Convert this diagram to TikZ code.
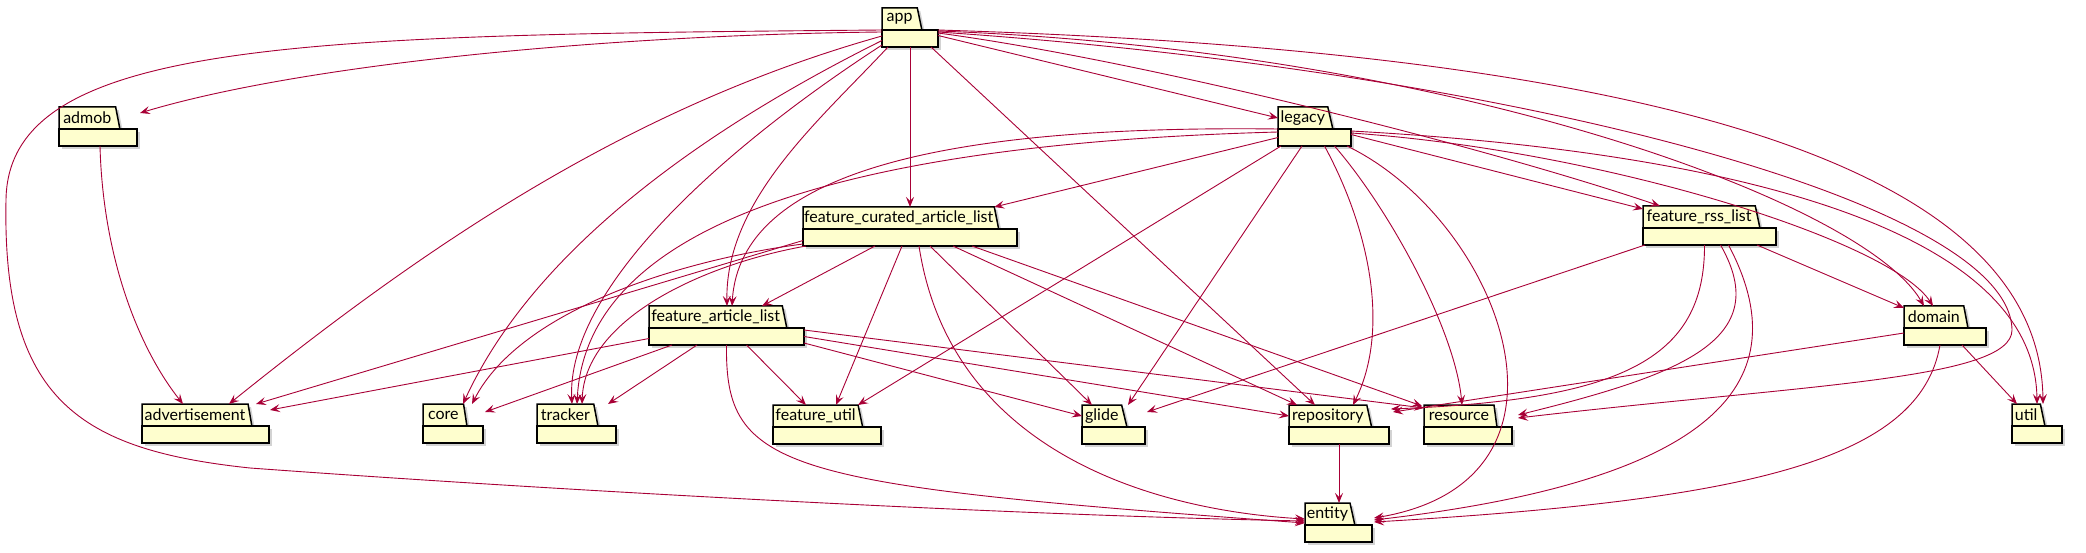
\documentclass[tikz,border=0pt]{standalone}
\usepackage{fontspec}
\setmainfont{Lato}
\usetikzlibrary{positioning,shapes.geometric,arrows.meta,shadows}
\definecolor{pkgfill}{HTML}{FEFECE}
\definecolor{deparrow}{HTML}{A80036}

\begin{document}
\begin{tikzpicture}[x=1pt,y=-1pt,
    pkgtab/.style={trapezium,trapezium left angle=90,trapezium right angle=73,trapezium stretches=true,
      draw,fill=pkgfill,line width=1.5pt,minimum height=22pt,inner xsep=0pt,inner ysep=0pt,outer sep=0pt,
      anchor=top left corner,font=\fontsize{16}{18}\selectfont,
      drop shadow={shadow xshift=3pt,shadow yshift=-3pt,opacity=.35}},
    pkgbody/.style={rectangle,draw,fill=pkgfill,line width=1.5pt,minimum height=17pt,inner sep=0pt,outer sep=0pt,
      drop shadow={shadow xshift=3pt,shadow yshift=-3pt,opacity=.35}},
    dep/.style={draw=deparrow,line width=.9pt,-{Stealth[length=10pt,width=8pt,inset=4pt]}}]
  \useasboundingbox (0,0) rectangle (2086,553);

  \node[pkgtab,minimum width=40] (app-tab) at (882,8) {app};
  \node[pkgbody,minimum width=56,below right=0pt of app-tab.bottom left corner] (app) {};
  \node[pkgtab,minimum width=61] (admob-tab) at (59,107) {admob};
  \node[pkgbody,minimum width=78,below right=0pt of admob-tab.bottom left corner] (admob) {};
  \node[pkgtab,minimum width=55] (legacy-tab) at (1278,107) {legacy};
  \node[pkgbody,minimum width=73,below right=0pt of legacy-tab.bottom left corner] (legacy) {};
  \node[pkgtab,minimum width=196] (curated-tab) at (803,207) {feature\_curated\_article\_list};
  \node[pkgbody,minimum width=214,below right=0pt of curated-tab.bottom left corner] (curated) {};
  \node[pkgtab,minimum width=117] (rss-tab) at (1643,206) {feature\_rss\_list};
  \node[pkgbody,minimum width=133,below right=0pt of rss-tab.bottom left corner] (rss) {};
  \node[pkgtab,minimum width=138] (article-tab) at (649,306) {feature\_article\_list};
  \node[pkgbody,minimum width=155,below right=0pt of article-tab.bottom left corner] (article) {};
  \node[pkgtab,minimum width=64] (domain-tab) at (1904,306) {domain};
  \node[pkgbody,minimum width=82,below right=0pt of domain-tab.bottom left corner] (domain) {};
  \node[pkgtab,minimum width=110] (ads-tab) at (142,404) {advertisement};
  \node[pkgbody,minimum width=127,below right=0pt of ads-tab.bottom left corner] (ads) {};
  \node[pkgtab,minimum width=44] (core-tab) at (423,404) {core};
  \node[pkgbody,minimum width=60,below right=0pt of core-tab.bottom left corner] (core) {};
  \node[pkgtab,minimum width=61] (tracker-tab) at (537,404) {tracker};
  \node[pkgbody,minimum width=79,below right=0pt of tracker-tab.bottom left corner] (tracker) {};
  \node[pkgtab,minimum width=90] (futil-tab) at (773,405) {feature\_util};
  \node[pkgbody,minimum width=108,below right=0pt of futil-tab.bottom left corner] (futil) {};
  \node[pkgtab,minimum width=45] (glide-tab) at (1082,405) {glide};
  \node[pkgbody,minimum width=63,below right=0pt of glide-tab.bottom left corner] (glide) {};
  \node[pkgtab,minimum width=83] (repo-tab) at (1289,405) {repository};
  \node[pkgbody,minimum width=100,below right=0pt of repo-tab.bottom left corner] (repo) {};
  \node[pkgtab,minimum width=73] (res-tab) at (1424,405) {resource};
  \node[pkgbody,minimum width=88,below right=0pt of res-tab.bottom left corner] (res) {};
  \node[pkgtab,minimum width=33] (util-tab) at (2012,404) {util};
  \node[pkgbody,minimum width=50,below right=0pt of util-tab.bottom left corner] (util) {};
  \node[pkgtab,minimum width=50] (entity-tab) at (1305,503) {entity};
  \node[pkgbody,minimum width=67,below right=0pt of entity-tab.bottom left corner] (entity) {};

  % app
  \draw[dep] ([yshift=-2pt]app.north west) .. controls (600,35) and (300,65) .. ([xshift=3pt,yshift=16pt]admob.north east);
  \draw[dep] ([yshift=2.5pt]app.west) .. controls (632,106) and (429,243) .. ([xshift=87pt]ads-tab.top left corner);
  \draw[dep] (app.north west) .. controls (300,35) and (8,40) .. (6,200)
    .. controls (2,400) and (80,450) .. (250,468)
    .. controls (550,490) and (1000,515) .. ([yshift=-18pt]entity-tab.top left corner);
  \draw[dep] ([yshift=-2pt]app.west) .. controls (662,150) and (523,273) .. ([xshift=40pt]core-tab.top left corner);
  \draw[dep] ([yshift=2pt]app.south west) .. controls (720,150) and (566,290) .. ([xshift=35pt]tracker-tab.top left corner);
  \draw[dep] ([xshift=6pt]app.south west) .. controls (820,120) and (725,200) .. ([xshift=78pt]article-tab.top left corner);
  \draw[dep] (app.south) -- (app.south |- curated-tab.north);
  \draw[dep] ([xshift=-7pt]app.south east) -- ([xshift=26pt]repo-tab.top left corner);
  \draw[dep] ([yshift=3pt]app.east) -- ([yshift=-11pt]legacy-tab.top left corner);
  \draw[dep] ([yshift=-3pt]app.north east) .. controls (1140,60) and (1480,145) .. ([xshift=17pt]rss-tab.top left corner);
  \draw[dep] ([yshift=-1pt]app.north east) .. controls (1450,50) and (1864,202) .. ([xshift=20pt]domain-tab.top left corner);
  \draw[dep] ([yshift=-2pt]app.north east) .. controls (1500,70) and (2010,200) .. (2012,330)
    .. controls (2012,380) and (1800,385) .. ([xshift=6pt,yshift=9pt]res.north east);
  \draw[dep] (app.north east) .. controls (1600,50) and (2040,150) .. ([xshift=31pt]util-tab.top left corner);

  % legacy
  \draw[dep] (legacy.north west) .. controls (950,125) and (740,170) .. ([xshift=83pt]article-tab.top left corner);
  \draw[dep] ([yshift=-3pt]legacy.north west) .. controls (800,145) and (585,240) .. ([xshift=40pt]tracker-tab.top left corner);
  \draw[dep] (legacy.west) -- (curated-tab.top right corner);
  \draw[dep] ([xshift=3pt]legacy.south west) -- ([xshift=85pt]futil-tab.top left corner);
  \draw[dep] ([xshift=24pt]legacy.south west) -- ([xshift=46pt]glide-tab.top left corner);
  \draw[dep] ([xshift=10pt]legacy.south) .. controls (1370,230) and (1390,330) .. ([xshift=64pt]repo-tab.top left corner);
  \draw[dep] ([xshift=20pt]legacy.south) .. controls (1390,210) and (1455,330) .. ([xshift=38pt]res-tab.top left corner);
  \draw[dep] ([xshift=-4pt]legacy.south east) .. controls (1500,220) and (1600,480) .. ([xshift=2pt,yshift=7pt]entity.north east);
  \draw[dep] ([yshift=3pt]legacy.east) -- ([yshift=-3pt]rss-tab.top left corner);
  \draw[dep] ([yshift=-4pt]legacy.north east) .. controls (1600,150) and (1890,240) .. ([xshift=29pt]domain-tab.top left corner);
  \draw[dep] ([yshift=-2pt]legacy.north east) .. controls (1700,150) and (2035,220) .. ([xshift=25pt]util-tab.top left corner);

  % feature_curated_article_list
  \draw[dep] ([yshift=-3pt]curated.west) -- ([xshift=8pt]ads-tab.top right corner);
  \draw[dep] ([yshift=2pt]curated.south west) .. controls (680,260) and (520,310) .. ([xshift=49pt]core-tab.top left corner);
  \draw[dep] ([xshift=3pt]curated.south west) .. controls (700,265) and (585,320) .. ([xshift=45pt]tracker-tab.top left corner);
  \draw[dep] ([xshift=-35pt]curated.south) -- ([xshift=113pt]article-tab.top left corner);
  \draw[dep] ([xshift=-8pt]curated.south) -- ([xshift=63pt]futil-tab.top left corner);
  \draw[dep] ([xshift=9pt]curated.south) .. controls (950,450) and (1150,510) .. ([yshift=-16pt]entity-tab.top left corner);
  \draw[dep] ([xshift=20pt]curated.south) -- ([xshift=10pt]glide-tab.top left corner);
  \draw[dep] ([xshift=43pt]curated.south) -- ([xshift=8pt]repo-tab.top left corner);
  \draw[dep] ([xshift=62pt]curated.south) -- ([xshift=-2pt,yshift=-1pt]res-tab.top left corner);

  % feature_article_list
  \draw[dep] ([yshift=-2pt]article.west) -- ([xshift=1pt,yshift=16pt]ads.north east);
  \draw[dep] ([xshift=23pt]article.south west) -- ([xshift=2pt,yshift=14pt]core.north east);
  \draw[dep] ([xshift=48pt]article.south west) -- ([xshift=71pt]tracker-tab.top left corner);
  \draw[dep] ([xshift=20pt]article.south) -- ([xshift=33pt]futil-tab.top left corner);
  \draw[dep] ([yshift=2pt]article.south east) -- ([yshift=-11pt]glide-tab.top left corner);
  \draw[dep] (article.east) -- ([yshift=-11pt]repo-tab.top left corner);
  \draw[dep] ([yshift=-2pt]article.north east) -- ([yshift=-3pt]res-tab.top left corner);
  \draw[dep] (article.south) .. controls (725,470) and (780,485) .. ([yshift=-20pt]entity-tab.top left corner);

  % feature_rss_list
  \draw[dep] ([xshift=2pt]rss.south west) -- ([xshift=2pt,yshift=15pt]glide.north east);
  \draw[dep] ([xshift=-5pt]rss.south) .. controls (1705,360) and (1620,400) .. ([xshift=2pt,yshift=18pt]repo.north east);
  \draw[dep] ([xshift=11pt]rss.south) .. controls (1775,340) and (1680,375) .. ([xshift=6pt,yshift=12pt]res.north east);
  \draw[dep] ([xshift=19pt]rss.south) .. controls (1800,380) and (1720,480) .. ([xshift=2pt,yshift=5pt]entity.north east);
  \draw[dep] ([xshift=-19pt]rss.south east) -- ([yshift=-2pt]domain-tab.top left corner);

  % domain
  \draw[dep] ([yshift=-5pt]domain.north west) -- ([xshift=4pt,yshift=15pt]repo.north east);
  \draw[dep] ([xshift=-5pt]domain.south) .. controls (1920,460) and (1750,500) .. ([xshift=2pt,yshift=3pt]entity.north east);
  \draw[dep] ([xshift=17pt]domain.south) -- ([xshift=5pt]util-tab.top left corner);

  \draw[dep] ([xshift=2pt]admob.south) .. controls (103,260) and (140,350) .. ([xshift=41pt]ads-tab.top left corner);
  \draw[dep] (repo.south) -- (repo.south |- entity-tab.north);
\end{tikzpicture}
\end{document}
